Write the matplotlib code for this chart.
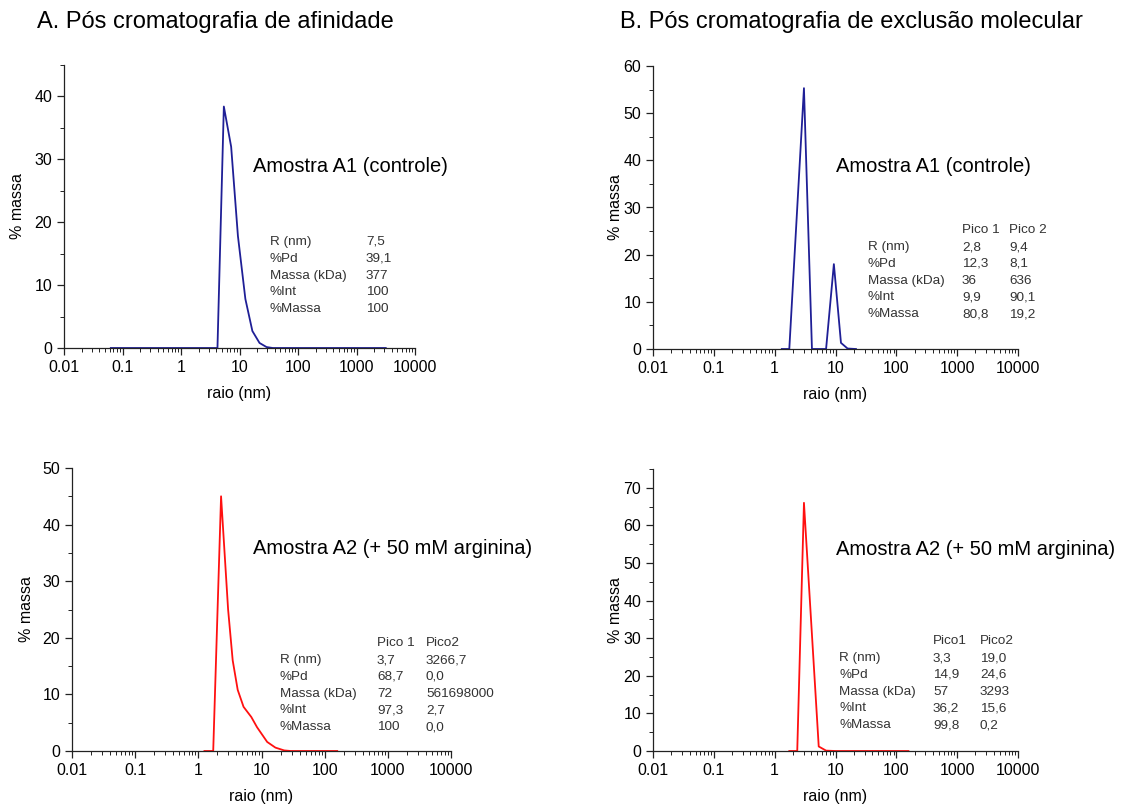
import matplotlib
matplotlib.use("Agg")
import matplotlib.pyplot as plt
from matplotlib.ticker import LogLocator, FixedLocator, MultipleLocator, NullFormatter

plt.rcParams["font.family"] = ["Liberation Sans", "DejaVu Sans"]

W, H = 1133, 805

# --- data ---
# A: after affinity chromatography
a1_raio = [0.063, 4.2, 5.4, 7.2, 9.4, 12.6, 16.6, 22, 29, 37, 3162]
a1_massa = [0, 0, 38.4, 32, 17.8, 7.8, 2.7, 0.8, 0.15, 0, 0]
a2_raio = [1.25, 1.72, 2.29, 2.96, 3.5, 4.2, 5.2, 6.9, 8.5, 12.3, 16.6, 22.9, 29, 158]
a2_massa = [0, 0, 45, 25, 16, 10.8, 7.8, 6, 4.2, 1.6, 0.6, 0.1, 0, 0]
# B: after size exclusion chromatography
b1_raio = [1.31, 1.74, 3.03, 4.1, 7.0, 9.4, 12.3, 15.8, 21.7]
b1_massa = [0, 0, 55.3, 0, 0, 18, 1.3, 0.1, 0]
b2_raio = [1.74, 2.35, 3.03, 5.3, 7.0, 10, 158]
b2_massa = [0, 0, 66, 1.2, 0.1, 0, 0]

table_rows = ["R (nm)", "%Pd", "Massa (kDa)", "%Int", "%Massa"]
a1_vals = ["7,5", "39,1", "377", "100", "100"]
a2_pico1 = ["3,7", "68,7", "72", "97,3", "100"]
a2_pico2 = ["3266,7", "0,0", "561698000", "2,7", "0,0"]
b1_pico1 = ["2,8", "12,3", "36", "9,9", "80,8"]
b1_pico2 = ["9,4", "8,1", "636", "90,1", "19,2"]
b2_pico1 = ["3,3", "14,9", "57", "36,2", "99,8"]
b2_pico2 = ["19,0", "24,6", "3293", "15,6", "0,2"]

xticks = [0.01, 0.1, 1, 10, 100, 1000, 10000]
xticklabels = ["0.01", "0.1", "1", "10", "100", "1000", "10000"]

fig = plt.figure(figsize=(W / 100, H / 100), dpi=100)


def px(x, y):
    return x / W, 1 - y / H


def make_ax(left, right, top, bottom, ymax, ystep, ylab_x):
    wpx, hpx = right - left, bottom - top
    ax = fig.add_axes([left / W, 1 - bottom / H, wpx / W, hpx / H])
    ax.set_xscale("log")
    ax.set_xlim(0.01, 10000)
    ax.set_ylim(0, ymax)
    for s in ["top", "right"]:
        ax.spines[s].set_visible(False)
    for s in ["left", "bottom"]:
        ax.spines[s].set_linewidth(0.9)
        ax.spines[s].set_color("#222222")
    ax.xaxis.set_major_locator(FixedLocator(xticks))
    ax.set_xticklabels(xticklabels)
    ax.xaxis.set_minor_locator(LogLocator(base=10, subs=range(2, 10), numticks=20))
    ax.xaxis.set_minor_formatter(NullFormatter())
    ax.yaxis.set_major_locator(MultipleLocator(ystep))
    ax.yaxis.set_minor_locator(MultipleLocator(ystep / 2))
    ax.tick_params(which="major", direction="out", length=5, width=0.9, labelsize=11.5, color="#222222")
    ax.tick_params(which="minor", direction="out", length=3, width=0.7, color="#222222")
    ax.set_xlabel("raio (nm)", fontsize=11.5, va="center")
    ax.set_ylabel("% massa", fontsize=11.5, va="center")
    ax.xaxis.set_label_coords(0.5, -45 / hpx)
    ax.yaxis.set_label_coords(-(left - ylab_x) / wpx, 0.5)
    return ax


def table(x0, xcols, y0, cols, header=None, dy=16.8):
    kw = dict(fontsize=9.7, color="#333333", va="center")
    if header is not None:
        for xc, h in zip(xcols, header):
            fig.text(*px(xc, y0 - dy), h, **kw)
    for i, r in enumerate(table_rows):
        fig.text(*px(x0, y0 + i * dy), r, **kw)
        for xc, col in zip(xcols, cols):
            fig.text(*px(xc, y0 + i * dy), col[i], **kw)


blue = "#1f1f96"
red = "#ff1010"

# A top
ax = make_ax(64, 415, 65, 348, 45, 10, 18)
ax.plot(a1_raio, a1_massa, color=blue, lw=1.3)
fig.text(*px(253, 166), "Amostra A1 (controle)", fontsize=14.5, va="center")
table(270, [366], 242, [a1_vals])

# B top
ax = make_ax(653, 1018, 66, 349, 60, 10, 615)
ax.plot(b1_raio, b1_massa, color=blue, lw=1.3)
fig.text(*px(836, 166), "Amostra A1 (controle)", fontsize=14.5, va="center")
table(868, [962, 1009], 247, [b1_pico1, b1_pico2], header=["Pico 1", "Pico 2"])

# A bottom
ax = make_ax(72, 451, 468, 751, 50, 10, 27)
ax.plot(a2_raio, a2_massa, color=red, lw=1.3)
fig.text(*px(253, 548), "Amostra A2 (+ 50 mM arginina)", fontsize=14.5, va="center")
table(280, [377, 426], 660, [a2_pico1, a2_pico2], header=["Pico 1", "Pico2"])

# B bottom
ax = make_ax(653, 1018, 469, 751, 75, 10, 615)
ax.plot(b2_raio, b2_massa, color=red, lw=1.3)
fig.text(*px(836, 549), "Amostra A2 (+ 50 mM arginina)", fontsize=14.5, va="center")
table(839, [933, 980], 658, [b2_pico1, b2_pico2], header=["Pico1", "Pico2"])

# panel titles
fig.text(*px(37, 22), "A. Pós cromatografia de afinidade", fontsize=17, va="center")
fig.text(*px(620, 22), "B. Pós cromatografia de exclusão molecular", fontsize=17, va="center")

fig.savefig("out.png", dpi=100)
